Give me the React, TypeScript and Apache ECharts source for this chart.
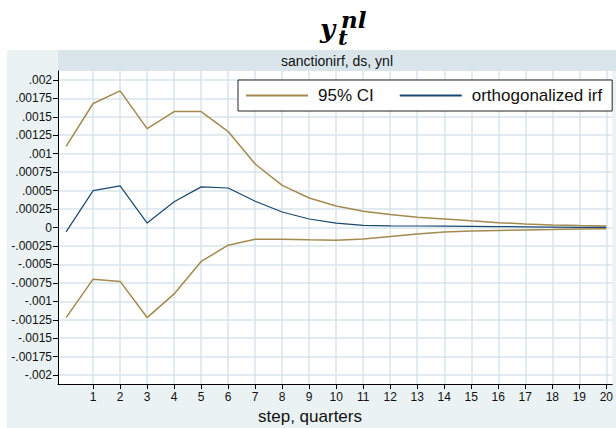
import React, { useEffect, useRef } from "react";
import * as echarts from "echarts";

const steps = [0, 1, 2, 3, 4, 5, 6, 7, 8, 9, 10, 11, 12, 13, 14, 15, 16, 17, 18, 19, 20];
const ciUpper = [0.0011, 0.00168, 0.00185, 0.00134, 0.00157, 0.00157, 0.0013, 0.00086, 0.00057, 0.0004, 0.00029, 0.00022, 0.000175, 0.00014, 0.000115, 0.00009, 0.000066, 0.000048, 0.000035, 0.000026, 0.00002];
const irf = [-0.00006, 0.0005, 0.000565, 0.00006, 0.00035, 0.00055, 0.000535, 0.000355, 0.00021, 0.000115, 0.00006, 0.00003, 0.000022, 0.00002, 0.000018, 0.000015, 0.000012, 0.000009, 0.000006, 0.000003, 0.000001];
const ciLower = [-0.00122, -0.0007, -0.00073, -0.00122, -0.0009, -0.00046, -0.00024, -0.00016, -0.00016, -0.000167, -0.000172, -0.000155, -0.000122, -0.000088, -0.00006, -0.000046, -0.00004, -0.000033, -0.000028, -0.000021, -0.000016];

const xTickValues = [1, 2, 3, 4, 5, 6, 7, 8, 9, 10, 11, 12, 13, 14, 15, 16, 17, 18, 19, 20];
const yTickValues = [0.002, 0.00175, 0.0015, 0.00125, 0.001, 0.00075, 0.0005, 0.00025, 0, -0.00025, -0.0005, -0.00075, -0.001, -0.00125, -0.0015, -0.00175, -0.002];
const yTickLabels = [".002", ".00175", ".0015", ".00125", ".001", ".00075", ".0005", ".00025", "0", "-.00025", "-.0005", "-.00075", "-.001", "-.00125", "-.0015", "-.00175", "-.002"];

const seriesNames = ["95% CI", "orthogonalized irf"];
const stripTitle = "sanctionirf, ds, ynl";
const xAxisTitle = "step, quarters";
const titleMain = "y";
const titleSub = "t";
const titleSup = "nl";

const GOLD = "#a38a4f";
const NAVY = "#1a476f";
const FONT = "Liberation Sans";
const TFONT = "'DejaVu Serif'";

export default function App() {
  const ref = useRef<HTMLDivElement>(null);
  useEffect(() => {
    if (!ref.current) return;
    const chart = echarts.init(ref.current, null, { renderer: "svg" });
    const pts = (arr: number[]) => steps.map((s, i) => [s, arr[i]]);
    const labelFor = (v: number) => {
      const idx = yTickValues.findIndex((t) => Math.abs(t - v) < 1e-9);
      return idx >= 0 ? yTickLabels[idx] : "";
    };
    chart.setOption({
      animation: false,
      backgroundColor: "#ffffff",
      graphic: [
        { type: "rect", z: -10, silent: true, shape: { x: 7, y: 50, width: 609, height: 378 }, style: { fill: "#eaf2f3" } },
        { type: "rect", z: -9, silent: true, shape: { x: 58, y: 50, width: 558, height: 21 }, style: { fill: "#d9e5eb" } },
        {
          type: "text", x: 337, y: 60.5, z: 5,
          style: { text: stripTitle, font: `14px '${FONT}'`, fill: "#111", align: "center", verticalAlign: "middle" },
        },
        {
          type: "text", x: 310, y: 416, z: 5,
          style: { text: xAxisTitle, font: `17px '${FONT}'`, fill: "#111", align: "center", verticalAlign: "middle" },
        },
        {
          type: "text", x: 320, y: 28.5, z: 5,
          style: { text: titleMain, font: `italic bold 26px ${TFONT}`, fill: "#000", align: "left", verticalAlign: "middle", lineHeight: 20 },
        },
        {
          type: "text", x: 341, y: 19, z: 5,
          style: { text: titleSup, font: `italic bold 23px ${TFONT}`, fill: "#000", align: "left", verticalAlign: "middle", lineHeight: 16 },
        },
        {
          type: "text", x: 338, y: 37, z: 5,
          style: { text: titleSub, font: `italic bold 21px ${TFONT}`, fill: "#000", align: "left", verticalAlign: "middle", lineHeight: 14 },
        },
      ],
      legend: {
        left: 238,
        top: 80,
        orient: "horizontal",
        data: seriesNames.map((n) => ({ name: n, icon: "rect" })),
        backgroundColor: "#ffffff",
        borderColor: "#222",
        borderWidth: 1,
        borderRadius: 0,
        padding: [7, 10, 7, 8],
        itemWidth: 62,
        itemHeight: 2,
        itemGap: 26,
        textStyle: { fontFamily: FONT, fontSize: 17, color: "#111", padding: [0, 0, 0, 5], lineHeight: 17 },
      },
      grid: {
        left: 58, top: 71, right: 0, bottom: 44,
        show: true, backgroundColor: "#ffffff", borderWidth: 0,
        containLabel: false,
      },
      xAxis: {
        type: "value",
        min: -0.3,
        max: 20.22,
        axisLine: { show: true, onZero: false, lineStyle: { color: "#000", width: 1 } },
        axisTick: { show: true, customValues: xTickValues, length: 5, lineStyle: { color: "#000" } },
        axisLabel: { customValues: xTickValues, fontFamily: FONT, fontSize: 12, color: "#111", margin: 7, showMinLabel: true, showMaxLabel: true },
        splitLine: { show: true, lineStyle: { color: "#d8e4eb", width: 1.5 } },
      },
      yAxis: {
        type: "value",
        min: -0.00212,
        max: 0.00212,
        axisLine: { show: true, onZero: false, lineStyle: { color: "#000", width: 1 } },
        axisTick: { show: true, customValues: yTickValues, length: 5, lineStyle: { color: "#000" } },
        axisLabel: { customValues: yTickValues, formatter: (v: number) => labelFor(v), fontFamily: FONT, fontSize: 12, color: "#111", margin: 6 },
        splitLine: { show: true, lineStyle: { color: "#d8e4eb", width: 1.5 } },
      },
      series: [
        { name: seriesNames[0], type: "line", data: pts(ciUpper), symbol: "none", lineStyle: { color: GOLD, width: 1.5 }, itemStyle: { color: GOLD }, z: 3 },
        { name: seriesNames[0], type: "line", data: pts(ciLower), symbol: "none", lineStyle: { color: GOLD, width: 1.5 }, itemStyle: { color: GOLD }, z: 3 },
        { name: seriesNames[1], type: "line", data: pts(irf), symbol: "none", lineStyle: { color: NAVY, width: 1.2 }, itemStyle: { color: NAVY }, z: 4 },
      ],
    });
    return () => chart.dispose();
  }, []);
  return <div ref={ref} style={{ position: "fixed", left: 0, top: 0, width: 616, height: 428 }} />;
}
